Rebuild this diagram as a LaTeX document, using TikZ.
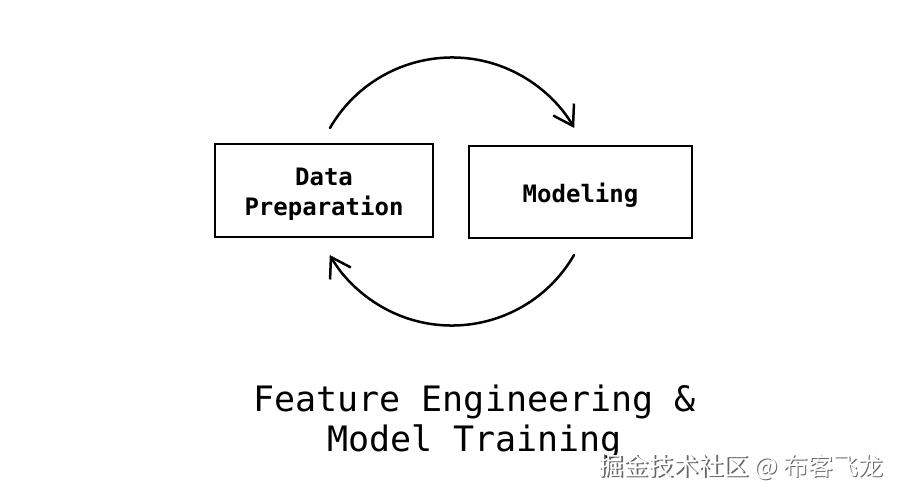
\documentclass[tikz,border=0pt]{standalone}
\usepackage{fontspec}
\usetikzlibrary{arrows.meta}
\newfontfamily\handfont{DejaVu Sans Mono}
\newfontfamily\cjkfont{Noto Sans CJK SC}

% текст в рамке чуть ниже центра
\newcommand{\stagetext}[1]{\raisebox{-4pt}[\height][\depth]{\begin{tabular}{@{}c@{}}#1\end{tabular}}}

\tikzset{
	stage/.style={draw, line width=2.3pt, inner sep=0pt,
		font=\handfont\bfseries\fontsize{24}{30}\selectfont},
	flow/.style={line width=2.5pt, line cap=round,
		-{Straight Barb[length=19pt, width=24pt, line width=2.5pt]}},
}

\begin{document}
\begin{tikzpicture}[x=1pt, y=1pt]
	% параметры
	\def\R{141} % радиус дуг

	% рамка картинки
	\useasboundingbox (0,0) rectangle (899,499);

	% этапы
	\node[stage, minimum width=218, minimum height=93] (prep) at (324,308.5) {\stagetext{Data\\Preparation}};
	\node[stage, minimum width=223, minimum height=92] (model) at (580.5,307) {\stagetext{Modeling}};

	% концы дуг
	\coordinate (topstart) at (330,371);
	\coordinate (botstart) at (574,244);

	% цикл
	\draw[flow] (topstart) arc[start angle=150, end angle=30, radius=\R];
	\draw[flow] (botstart) arc[start angle=-30, end angle=-150, radius=\R];

	% подпись
	\node[align=center, font=\handfont\fontsize{35}{40}\selectfont] (title) at (474.5,77)
		{Feature Engineering \&\\Model Training};

	% водяной знак
	\node[font=\cjkfont\fontsize{25}{25}\selectfont, text=gray!80!black] (markshadow) at (742.5,30.5)
		{掘金技术社区 @ 布客飞龙};
	\node[font=\cjkfont\fontsize{25}{25}\selectfont, text=white] (mark) at (741,32)
		{掘金技术社区 @ 布客飞龙};
\end{tikzpicture}
\end{document}
